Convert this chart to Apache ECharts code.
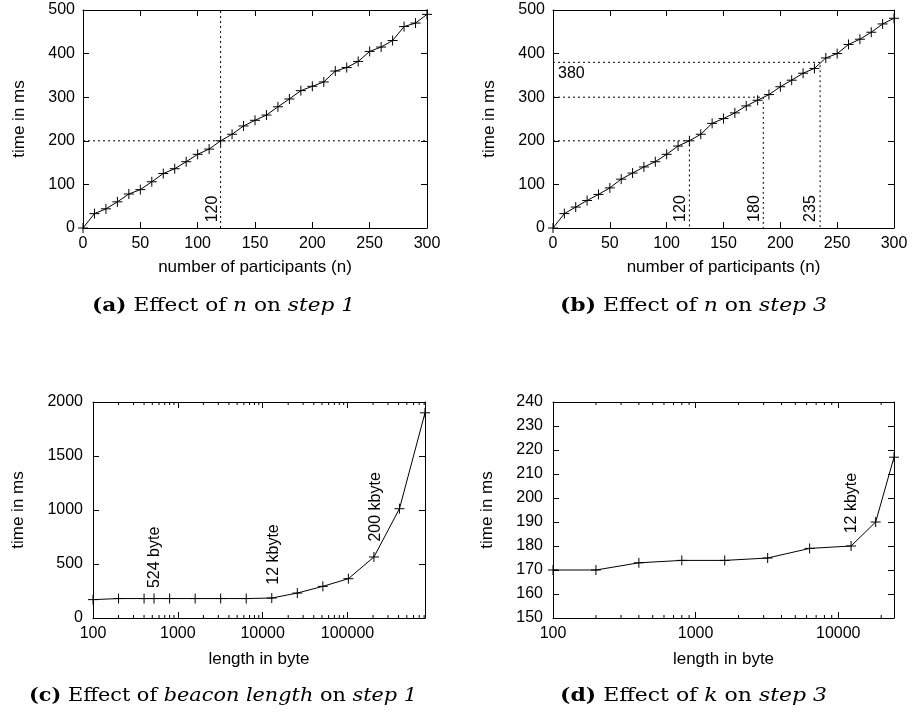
<!DOCTYPE html>
<html><head><meta charset="utf-8">
<script src="https://cdn.jsdelivr.net/npm/echarts@6/dist/echarts.min.js"></script>
<style>html,body{margin:0;padding:0;background:#fff}#c{width:923px;height:714px}</style>
</head><body><div id="c"></div>
<script>
// ---------- data ----------
const participants = [0,10,20,30,40,50,60,70,80,90,100,110,120,130,140,150,160,170,180,190,200,210,220,230,240,250,260,270,280,290,300];
const step1Time = [0,33,44,60,78,88,106,125,136,152,169,181,200,215,234,247,259,278,296,315,325,335,360,368,382,405,415,430,462,470,490];
const step3Time = [0,33,48,63,77,92,112,126,140,152,169,188,200,215,240,251,264,280,293,306,324,339,355,366,390,400,421,433,449,468,481];
const beaconLength = [100,200,400,524,800,1600,3200,6400,12800,25600,51200,102400,204800,409600,819200];
const beaconTime = [170,180,180,180,180,180,180,180,185,231,293,364,565,1012,1900];
const kLength = [100,200,400,800,1600,3200,6300,12300,18300,24600];
const kTime = [170,170,173,174,174,175,179,180,190,217];
// reference (dotted) lines
const refA = [120, 200];                       // vertical x, horizontal y
const refB = [[120,200],[185,300],[235,380]];  // [x, y] corners
// annotations
const annA = [{text:'120', at:[113,13]}];
const annB = [{text:'120', at:[112,14]},{text:'180', at:[177,14]},{text:'235', at:[227,14]}];
const annB380 = {text:'380', at:[4.4,355]};
const annC = [{text:'524 byte', at:[537,277]},{text:'12 kbyte', at:[13400,308]},{text:'200 kbyte', at:[212000,708]}];
const annD = [{text:'12 kbyte', at:[12500,185.3]}];
// tick lists
const linTicksX = {min:0, max:300, interval:50};
const linTicksY = {min:0, max:500, interval:100};
const minorTicksC = [200,300,400,500,600,700,800,900,2000,3000,4000,5000,6000,7000,8000,9000,20000,30000,40000,50000,60000,70000,80000,90000,200000,300000,400000,500000,600000,700000,800000];
const minorTicksD = [200,300,400,500,600,700,800,900,2000,3000,4000,5000,6000,7000,8000,9000,20000];

// ---------- styles ----------
const SANS = '"Liberation Sans", Arial, Helvetica, sans-serif';
const SERIF = '"DejaVu Serif", "Liberation Serif", serif';
const BLACK = '#000';
const plainNum = v => String(Math.round(v));
function axisBase(extra){
  return Object.assign({
    axisLine:{show:true, onZero:false, lineStyle:{color:BLACK, width:1}},
    axisTick:{show:true, inside:true, length:6, lineStyle:{color:BLACK, width:1}},
    axisLabel:{color:BLACK, fontFamily:SANS, fontSize:16, margin:8, formatter:plainNum},
    splitLine:{show:false},
    nameTextStyle:{color:BLACK, fontFamily:SANS, fontSize:17},
    nameLocation:'middle'
  }, extra);
}
function mirror(ax, pos){
  return Object.assign({}, ax, {position:pos, name:'', axisLabel:Object.assign({}, ax.axisLabel, {show:false})});
}
const grids = [
  {left:83, top:10, width:344, height:218},
  {left:553, top:10, width:341, height:218},
  {left:93, top:402, width:332, height:216},
  {left:553, top:402, width:341, height:216}
];
const xAxes = [], yAxes = [];
function addAxes(gi, xa, ya){
  xa.gridIndex = gi; ya.gridIndex = gi;
  xAxes.push(Object.assign(xa, {position:'bottom'}));
  xAxes.push(mirror(xa, 'top'));
  yAxes.push(Object.assign(ya, {position:'left'}));
  yAxes.push(mirror(ya, 'right'));
}
addAxes(0,
  axisBase({type:'value', min:linTicksX.min, max:linTicksX.max, interval:linTicksX.interval, name:'number of participants (n)', nameGap:31}),
  axisBase({type:'value', min:linTicksY.min, max:linTicksY.max, interval:linTicksY.interval, name:'time in ms', nameGap:55}));
addAxes(1,
  axisBase({type:'value', min:linTicksX.min, max:linTicksX.max, interval:linTicksX.interval, name:'number of participants (n)', nameGap:31}),
  axisBase({type:'value', min:linTicksY.min, max:linTicksY.max, interval:linTicksY.interval, name:'time in ms', nameGap:55}));
addAxes(2,
  axisBase({type:'log', logBase:10, min:100, max:819200, interval:1, name:'length in byte', nameGap:33,
    axisLabel:{color:BLACK, fontFamily:SANS, fontSize:16, margin:8, formatter:plainNum, showMaxLabel:false}}),
  axisBase({type:'value', min:0, max:2000, interval:500, name:'time in ms', nameGap:66,
    axisLabel:{color:BLACK, fontFamily:SANS, fontSize:16, margin:10, formatter:plainNum}}));
addAxes(3,
  axisBase({type:'log', logBase:10, min:100, max:24600, interval:1, name:'length in byte', nameGap:33,
    axisLabel:{color:BLACK, fontFamily:SANS, fontSize:16, margin:8, formatter:plainNum, showMaxLabel:false}}),
  axisBase({type:'value', min:150, max:240, interval:10, name:'time in ms', nameGap:57,
    axisLabel:{color:BLACK, fontFamily:SANS, fontSize:16, margin:10, formatter:plainNum}}));

const plus = 'path://M5,0L5,10M0,5L10,5';
function dataLine(gi, xs, ys){
  return {type:'line', xAxisIndex:2*gi, yAxisIndex:2*gi, data:xs.map((x,i)=>[x, ys[i]]),
    symbol:plus, symbolSize:10, showSymbol:true, clip:false,
    lineStyle:{color:BLACK, width:1},
    itemStyle:{color:'transparent', borderColor:BLACK, borderWidth:1},
    emphasis:{disabled:true}, z:5};
}
function dotted(gi, pts){
  return {type:'line', xAxisIndex:2*gi, yAxisIndex:2*gi, data:pts, symbol:'none', clip:false,
    lineStyle:{color:BLACK, width:1, type:[2,3]}, emphasis:{disabled:true}, z:3};
}
function minorTicks(gi, ticks, yMin, yMax){
  return {type:'custom', xAxisIndex:2*gi, yAxisIndex:2*gi, data:ticks.map(t=>[t, yMin]), clip:false, z:4,
    renderItem:function(params, api){
      const x = api.value(0);
      const b = api.coord([x, yMin]);
      const t = api.coord([x, yMax]);
      const st = {stroke:BLACK, lineWidth:1};
      return {type:'group', children:[
        {type:'line', shape:{x1:b[0], y1:b[1], x2:b[0], y2:b[1]-3}, style:st},
        {type:'line', shape:{x1:t[0], y1:t[1], x2:t[0], y2:t[1]+3}, style:st}
      ]};
    }};
}
const series = [
  dataLine(0, participants, step1Time),
  dotted(0, [[refA[0], linTicksY.min],[refA[0], linTicksY.max]]),
  dotted(0, [[linTicksX.min, refA[1]],[linTicksX.max, refA[1]]]),
  dataLine(1, participants, step3Time),
  ...refB.map(p => dotted(1, [[linTicksX.min, p[1]],[p[0], p[1]],[p[0], linTicksY.min]])),
  dataLine(2, beaconLength, beaconTime),
  minorTicks(2, minorTicksC, 0, 2000),
  dataLine(3, kLength, kTime),
  minorTicks(3, minorTicksD, 150, 240)
];

const chart = echarts.init(document.getElementById('c'), null, {renderer:'canvas'});
chart.setOption({animation:false, backgroundColor:'#fff', grid:grids, xAxis:xAxes, yAxis:yAxes, series:series});

// ---------- annotations ----------
const graphics = [];
function px(gi, v){ return chart.convertToPixel({xAxisIndex:2*gi, yAxisIndex:2*gi}, v); }
function vText(gi, a){
  const p = px(gi, a.at);
  graphics.push({type:'text', x:p[0], y:p[1], rotation:Math.PI/2, z:10,
    style:{text:a.text, fill:BLACK, fontFamily:SANS, fontSize:16, align:'left', verticalAlign:'middle', textAlign:'left', textVerticalAlign:'middle'}});
}
annA.forEach(a=>vText(0,a));
annB.forEach(a=>vText(1,a));
annC.forEach(a=>vText(2,a));
annD.forEach(a=>vText(3,a));
(function(){
  const p = px(1, annB380.at);
  graphics.push({type:'text', x:p[0], y:p[1], z:10,
    style:{text:annB380.text, fill:BLACK, fontFamily:SANS, fontSize:16, align:'left', verticalAlign:'middle', textAlign:'left', textVerticalAlign:'middle'}});
})();

// captions
const ctx = document.createElement('canvas').getContext('2d');
const CAP_SIZE = 18;
const fonts = {
  n: 'normal ' + CAP_SIZE + 'px ' + SERIF,
  b: 'bold ' + CAP_SIZE + 'px ' + SERIF,
  i: 'italic ' + CAP_SIZE + 'px ' + SERIF
};
const captions = [
  {segs:[['b','(a)'],['n',' Effect of '],['i','n'],['n',' on '],['i','step 1']], cx:223.5, cy:306.5, w:263},
  {segs:[['b','(b)'],['n',' Effect of '],['i','n'],['n',' on '],['i','step 3']], cx:693.5, cy:306.5, w:267},
  {segs:[['b','(c)'],['n',' Effect of '],['i','beacon length'],['n',' on '],['i','step 1']], cx:223, cy:696.5, w:388},
  {segs:[['b','(d)'],['n',' Effect of '],['i','k'],['n',' on '],['i','step 3']], cx:693.5, cy:696.5, w:267}
];
captions.forEach(c=>{
  let width = 0, txt = '';
  c.segs.forEach(([k,s])=>{ ctx.font = fonts[k]; width += ctx.measureText(s).width; txt += (k==='n' ? s : '{'+k+'|'+s+'}'); });
  const sx = c.w / width;
  graphics.push({type:'text', x:c.cx - c.w/2, y:c.cy, scaleX:sx, z:10,
    style:{text:txt, fill:BLACK, fontFamily:SERIF, fontSize:CAP_SIZE, align:'left', verticalAlign:'middle', textAlign:'left', textVerticalAlign:'middle',
      rich:{
        b:{fontFamily:SERIF, fontSize:CAP_SIZE, fontWeight:'bold', fill:BLACK},
        i:{fontFamily:SERIF, fontSize:CAP_SIZE, fontStyle:'italic', fill:BLACK}
      }}});
});
chart.setOption({graphic:graphics});
</script>
</body></html>
